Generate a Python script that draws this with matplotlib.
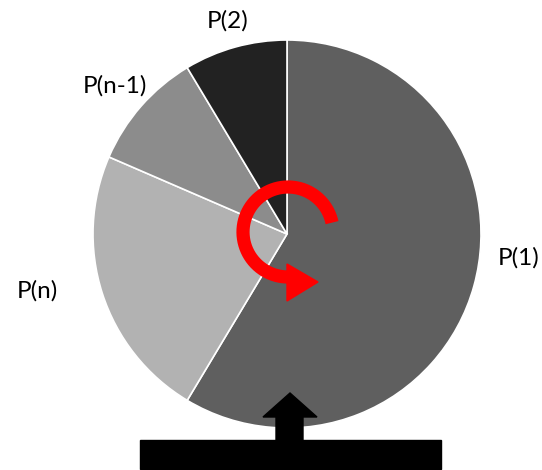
import numpy as np
import matplotlib.pyplot as plt
from matplotlib.patches import Rectangle, Polygon

# slice shares (clockwise from 12 o'clock)
labels = ['P(1)', 'P(n)', 'P(n-1)', 'P(2)']
shares = [58.6, 22.9, 9.9, 8.6]
colors = ['#5f5f5f', '#b2b2b2', '#8c8c8c', '#222222']

W, H = 542, 470
fig = plt.figure(figsize=(W / 100, H / 100), dpi=100)
ax = fig.add_axes([0, 0, 1, 1])

cx, cy, r = 287, H - 234, 194
ax.pie(shares, startangle=90, counterclock=False, colors=colors,
       center=(cx, cy), radius=r,
       wedgeprops=dict(edgecolor='white', linewidth=1.2))

# labels
font = dict(family=['Lato', 'DejaVu Sans'], fontsize=17.5, color='black')
ax.text(228, H - 21, labels[3], ha='center', va='center', **font)
ax.text(115, H - 86, labels[2], ha='center', va='center', **font)
ax.text(37, H - 291, labels[1], ha='center', va='center', **font)
ax.text(519, H - 258, labels[0], ha='center', va='center', **font)

# red rotation arrow
acx, acy, ar = 288, H - 232, 45
t = np.radians(np.linspace(12, 272, 200))
ax.plot(acx + ar * np.cos(t), acy + ar * np.sin(t), color='#ff0000',
        linewidth=9.5, solid_capstyle='butt')
ax.add_patch(Polygon([(287, H - 264), (287, H - 301), (318, H - 282)],
                     closed=True, color='#ff0000'))

# base bar and up arrow
ax.add_patch(Rectangle((140, H - 469), 301, 29, color='black'))
ax.add_patch(Polygon([(276, H - 441), (276, H - 417), (263, H - 417),
                      (290, H - 393), (317, H - 417), (303, H - 417),
                      (303, H - 441)], closed=True, color='black'))

ax.set_xlim(0, W)
ax.set_ylim(0, H)
ax.set_aspect('equal')
ax.axis('off')
fig.savefig('out.png', dpi=100, facecolor='white')
